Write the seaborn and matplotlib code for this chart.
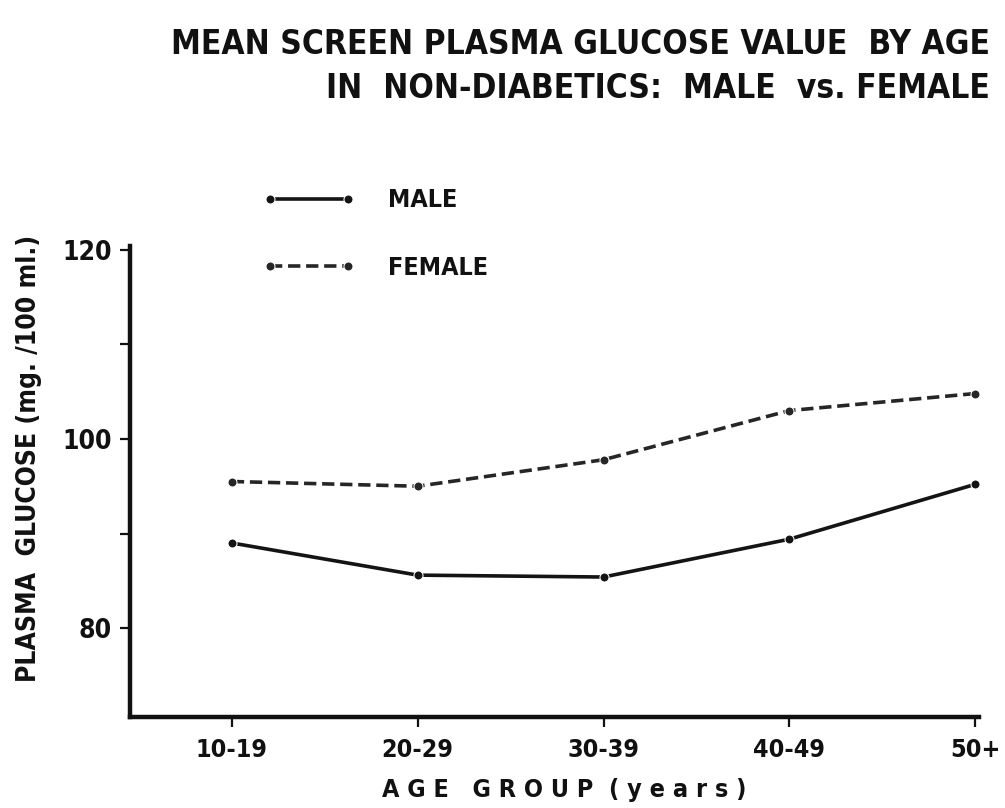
"""
Glucosa plasmatica media por grupo de edad, hombres vs. mujeres
(no diabeticos). Recreacion de una figura escaneada.
"""

import matplotlib.pyplot as plt
import matplotlib.ticker as mticker
import pandas as pd
import seaborn as sns

GRUPOS_EDAD = ["10-19", "20-29", "30-39", "40-49", "50+"]
GLUCOSA_HOMBRES = [89.0, 85.6, 85.4, 89.4, 95.2]
GLUCOSA_MUJERES = [95.5, 95.0, 97.8, 103.0, 104.8]
ETIQUETAS_SEXO = ["MALE", "FEMALE"]

sns.set_style("ticks")
plt.rcParams["font.family"] = ["DejaVu Sans"]
plt.rcParams["font.stretch"] = "condensed"
plt.rcParams["font.weight"] = "bold"
plt.rcParams["axes.labelweight"] = "bold"
plt.rcParams["text.color"] = "#111111"
plt.rcParams["axes.labelcolor"] = "#111111"
plt.rcParams["xtick.color"] = "#111111"
plt.rcParams["ytick.color"] = "#111111"

datos = pd.DataFrame(
    {
        "edad": GRUPOS_EDAD * 2,
        "glucosa": GLUCOSA_HOMBRES + GLUCOSA_MUJERES,
        "sexo": [ETIQUETAS_SEXO[0]] * len(GRUPOS_EDAD)
        + [ETIQUETAS_SEXO[1]] * len(GRUPOS_EDAD),
    }
)

fig = plt.figure(figsize=(10.05, 8.08), dpi=100)
ax = fig.add_axes([0.129, 1 - 717 / 808, 0.845, (717 - 246) / 808])

sns.lineplot(
    data=datos,
    x="edad",
    y="glucosa",
    hue="sexo",
    style="sexo",
    palette={"MALE": "#141414", "FEMALE": "#262626"},
    dashes={"MALE": "", "FEMALE": (3.4, 1.6)},
    markers={"MALE": "o", "FEMALE": "o"},
    markersize=6.5,
    linewidth=2.6,
    sort=False,
    ax=ax,
)

ax.set_xlim(-0.55, 4.02)
ax.set_ylim(70.6, 120.4)
ax.yaxis.set_major_locator(mticker.FixedLocator([80, 100, 120]))
ax.yaxis.set_minor_locator(mticker.FixedLocator([90, 110]))

for lado in ["top", "right"]:
    ax.spines[lado].set_visible(False)
for lado in ["left", "bottom"]:
    ax.spines[lado].set_linewidth(3.2)
    ax.spines[lado].set_color("#111111")

ax.tick_params(axis="both", which="both", direction="out", length=7,
               width=1.6)
ax.tick_params(axis="y", labelsize=19, pad=6)
ax.tick_params(axis="x", labelsize=18, pad=8)

ax.set_xlabel("A G E   G R O U P  ( y e a r s )", fontsize=18)
ax.xaxis.set_label_coords(0.512, -0.155)
ax.xaxis.label.set_verticalalignment("center")
ax.set_ylabel("PLASMA  GLUCOSE (mg. /100 ml.)", fontsize=19)
ax.yaxis.set_label_coords(-0.118, 0.55)
ax.yaxis.label.set_verticalalignment("center")

ax.legend(
    title=None,
    loc="upper left",
    bbox_to_anchor=(0.13, 1.17),
    frameon=False,
    fontsize=18,
    numpoints=2,
    handlelength=3.7,
    handletextpad=1.3,
    labelspacing=1.75,
)

fig.text(0.985, 1 - 45 / 808, "MEAN SCREEN PLASMA GLUCOSE VALUE  BY AGE",
         ha="right", va="center", fontsize=24)
fig.text(0.985, 1 - 88 / 808, "IN  NON-DIABETICS:  MALE  vs. FEMALE",
         ha="right", va="center", fontsize=24)

fig.savefig("out.png", dpi=100)
plt.close(fig)
